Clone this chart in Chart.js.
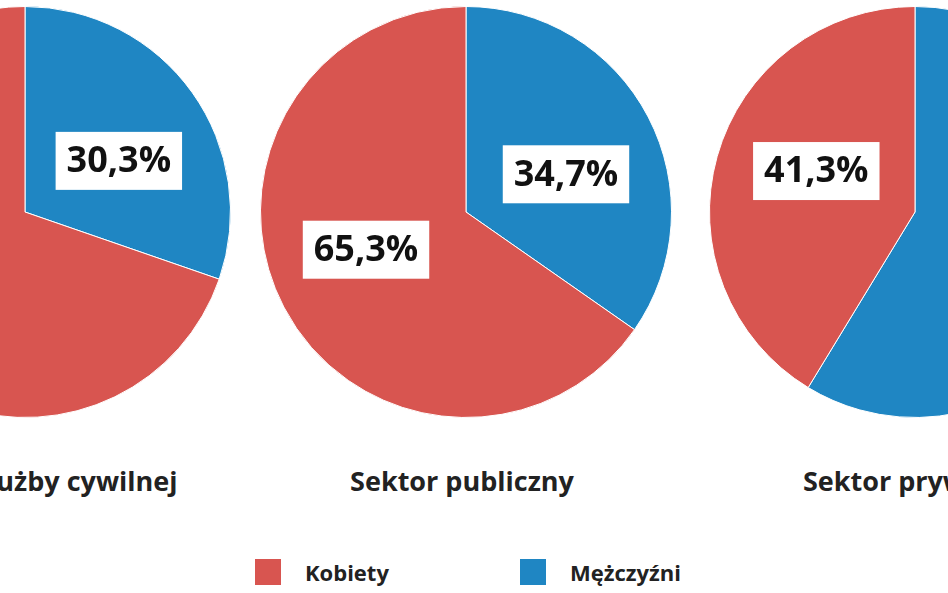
<!DOCTYPE html>
<html lang="pl">
<head>
<meta charset="UTF-8">
<script src="https://cdn.jsdelivr.net/npm/chart.js"></script>
<style>
  body { margin:0; width:948px; height:593px; overflow:hidden; background:#fff; position:relative; font-family:"Open Sans", "Liberation Sans", sans-serif; }
  .pie { position:absolute; top:2px; width:420px; height:420px; }
  .title { position:absolute; top:462px; font-weight:bold; font-size:27px; color:#222; white-space:nowrap; transform:translateX(-50%); }
  .leg { position:absolute; top:557px; font-weight:bold; font-size:22px; color:#222; display:flex; align-items:center; }
  .leg span { display:inline-block; width:26px; height:26px; margin-right:24px; }
</style>
</head>
<body>
<div class="pie" style="left:-185px"><canvas id="c0"></canvas></div>
<div class="pie" style="left:256px"><canvas id="c1"></canvas></div>
<div class="pie" style="left:705px"><canvas id="c2"></canvas></div>
<div class="title" style="left:25px">Korpus służby cywilnej</div>
<div class="title" style="left:462px">Sektor publiczny</div>
<div class="title" style="left:915px">Sektor prywatny</div>
<div class="leg" style="left:255px"><span style="background:#d85550"></span>Kobiety</div>
<div class="leg" style="left:520px"><span style="background:#1f86c3"></span>Mężczyźni</div>
<script>
  // order: Mężczyźni first (clockwise from top), then Kobiety
  const seriesNames = ['Mężczyźni', 'Kobiety'];
  const civilService = [30.3, 69.7];
  const publicSector = [34.7, 65.3];
  const privateSector = [58.7, 41.3];
  const colors = ['#1f86c3', '#d85550'];

  const labelPlugin = {
    id: 'boxLabels',
    afterDatasetsDraw(chart) {
      const ctx = chart.ctx;
      const meta = chart.getDatasetMeta(0);
      const data = chart.data.datasets[0].data;
      const show = chart.options.plugins.boxLabels.show;
      ctx.save();
      ctx.font = 'bold 36px "Open Sans", "Liberation Sans", sans-serif';
      ctx.textAlign = 'center';
      ctx.textBaseline = 'middle';
      meta.data.forEach((arc, i) => {
        if (!show[i]) return;
        const mid = (arc.startAngle + arc.endAngle) / 2 + 0.12;
        const r = arc.outerRadius * 0.52;
        const x = arc.x + Math.cos(mid) * r;
        const y = arc.y + Math.sin(mid) * r;
        const txt = data[i].toFixed(1).replace('.', ',') + '%';
        const w = ctx.measureText(txt).width + 22;
        ctx.fillStyle = '#fff';
        ctx.fillRect(x - w / 2, y - 29, w, 58);
        ctx.fillStyle = '#111';
        ctx.fillText(txt, x, y + 1);
      });
      ctx.restore();
    }
  };

  function makePie(id, values, show) {
    new Chart(document.getElementById(id), {
      type: 'pie',
      data: { labels: seriesNames, datasets: [{ data: values, backgroundColor: colors, borderColor: '#fff', borderWidth: 1 }] },
      options: {
        responsive: true, maintainAspectRatio: false, animation: false,
        layout: { padding: 4 },
        plugins: { legend: { display: false }, tooltip: { enabled: false }, boxLabels: { show } }
      },
      plugins: [labelPlugin]
    });
  }
  makePie('c0', civilService, [true, false]);
  makePie('c1', publicSector, [true, true]);
  makePie('c2', privateSector, [true, true]);
</script>
</body>
</html>
